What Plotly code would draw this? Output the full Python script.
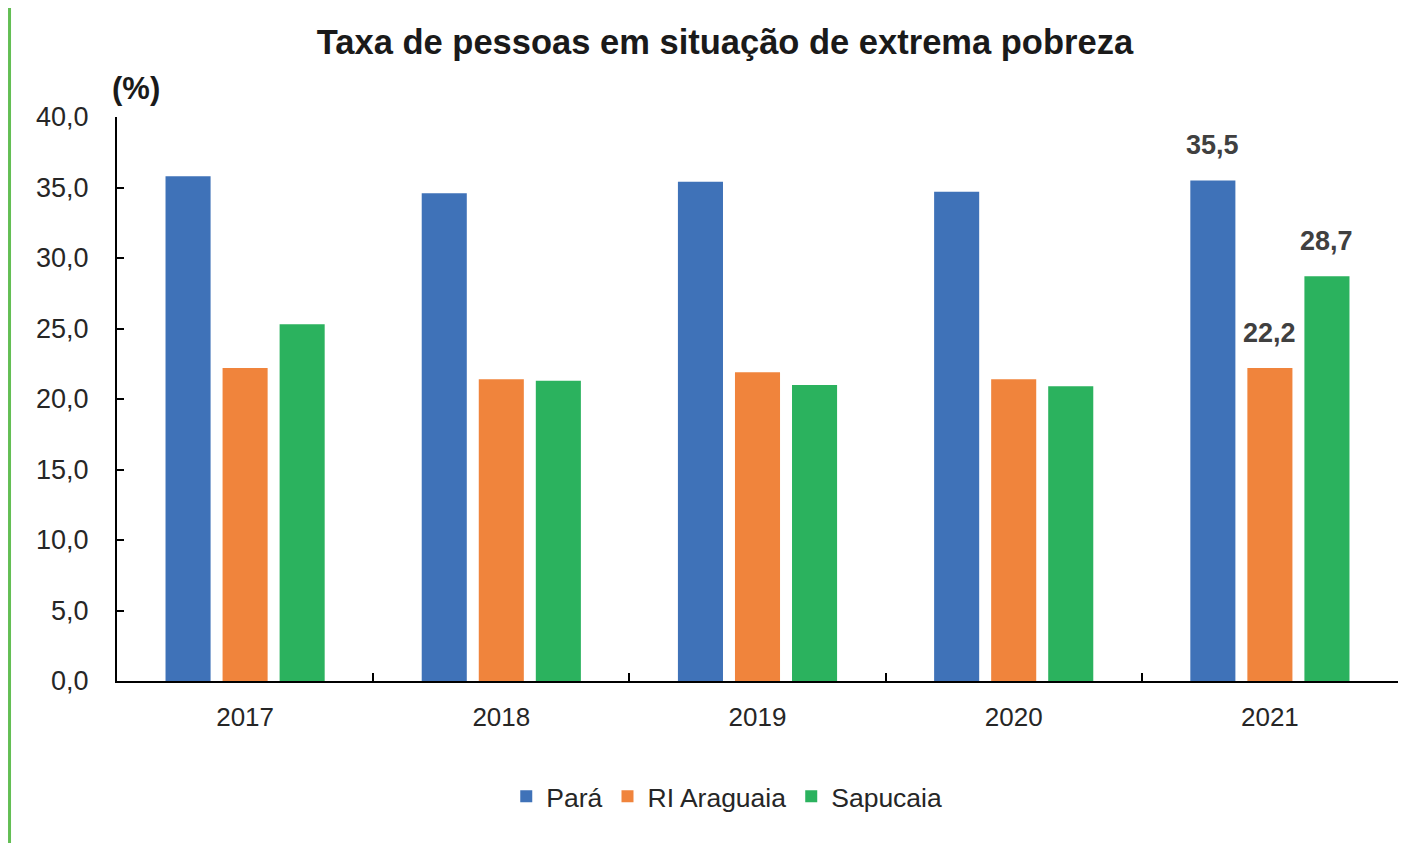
import plotly.graph_objects as go

years = ["2017", "2018", "2019", "2020", "2021"]
para = [35.8, 34.6, 35.4, 34.7, 35.5]
araguaia = [22.2, 21.4, 21.9, 21.4, 22.2]
sapucaia = [25.3, 21.3, 21.0, 20.9, 28.7]
series_names = ["Pará", "RI Araguaia", "Sapucaia"]
colors = ["#3F72B8", "#F0843C", "#2BB25E"]
label_years = ["2021"]

FONT = "Liberation Sans, Arial, sans-serif"

BARGAP = 0.332
BARGROUPGAP = 0.21
PLOT_W = 1281
CAT_W = PLOT_W / len(years)
SLOT = CAT_W * (1 - BARGAP) / 3

fig = go.Figure()
for name, vals, col in zip(series_names, [para, araguaia, sapucaia], colors):
    fig.add_trace(go.Bar(
        x=years, y=vals, name=name, marker=dict(color=col, line=dict(width=0)),
    ))

for i, vals in enumerate([para, araguaia, sapucaia]):
    for idx, (y, v) in enumerate(zip(years, vals)):
        if y in label_years:
            fig.add_annotation(
                x=idx, y=v, xref="x", yref="y", text=f"<b>{v:.1f}".replace(".", ",") + "</b>",
                showarrow=False, xshift=(i - 1) * SLOT, yshift=35, yanchor="middle",
                font=dict(family=FONT, size=27, color="#404040"),
            )

fig.update_layout(
    width=1400, height=835,
    paper_bgcolor="white", plot_bgcolor="white",
    margin=dict(l=109, r=10, t=109, b=162),
    barmode="group", bargap=BARGAP, bargroupgap=BARGROUPGAP,
    font=dict(family=FONT, size=26, color="#262626"),
    title=dict(text="<b>Taxa de pessoas em situação de extrema pobreza</b>",
               x=0.4746, xref="paper", xanchor="center", y=0.959, yanchor="middle",
               font=dict(family=FONT, size=34.5, color="#1a1a1a")),
    showlegend=True,
    legend=dict(orientation="h", x=0.476, xanchor="center", y=-0.205, yanchor="middle",
                font=dict(family=FONT, size=26.5, color="#262626"), itemwidth=30,
                traceorder="normal"),
    separators=",.",
)
fig.update_xaxes(
    type="category",
    showline=True, linecolor="black", linewidth=2, ticks="inside", tickson="boundaries",
    ticklen=8, tickwidth=2, tickcolor="black", showgrid=False,
    tickfont=dict(family=FONT, size=26, color="#262626"), ticklabelstandoff=12,
)
fig.update_yaxes(
    range=[0, 40], dtick=5, tickformat=".1f", showline=True, linecolor="black", linewidth=2,
    ticks="inside", ticklen=7, tickwidth=2, tickcolor="black", showgrid=False, zeroline=False,
    tickfont=dict(family=FONT, size=27, color="#262626"), ticklabelstandoff=21,
)
fig.add_annotation(text="<b>(%)</b>", xref="paper", yref="paper", x=0.015, y=1.051,
                   xanchor="center", yanchor="middle", showarrow=False,
                   font=dict(family=FONT, size=31, color="#1a1a1a"))
fig.add_shape(type="line", xref="paper", yref="paper", x0=-0.0839, x1=-0.0839, y0=-0.3, y1=1.22,
              line=dict(color="#63BE54", width=3))

fig.write_html("out.html")
